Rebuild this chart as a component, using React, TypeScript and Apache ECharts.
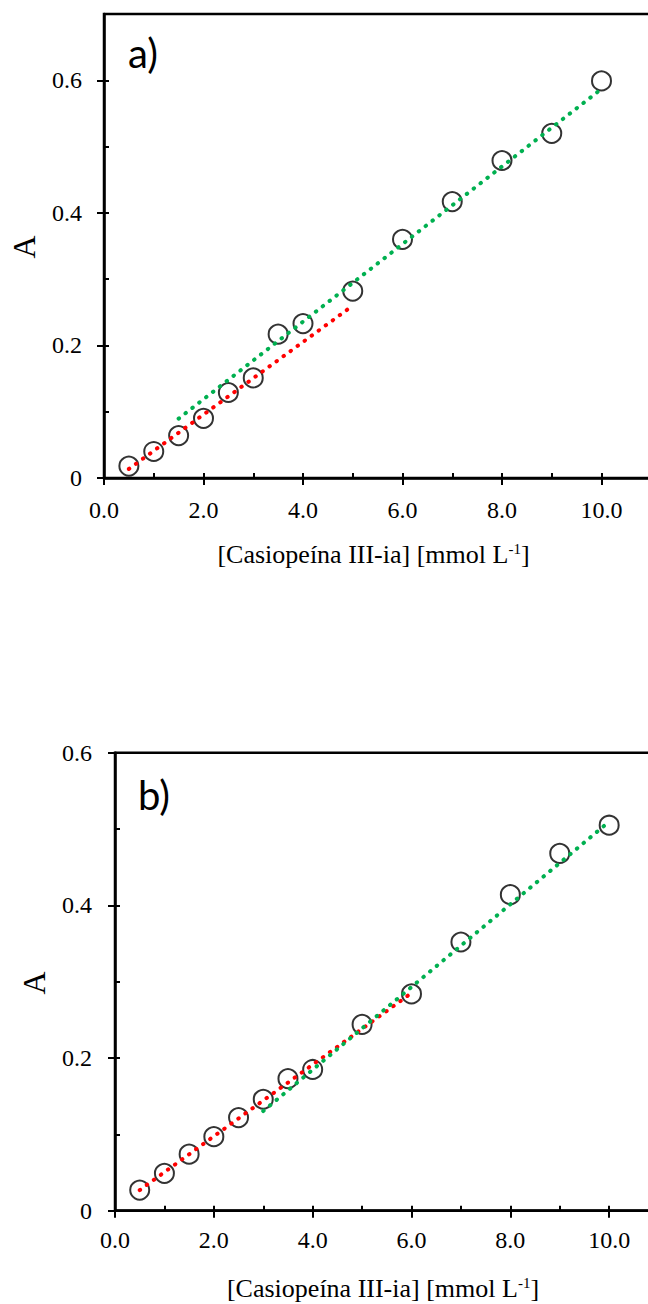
import React, { useEffect, useRef } from "react";
import * as echarts from "echarts";

// ---------- data ----------
const concentrations = [0.5, 1, 1.5, 2, 2.5, 3, 3.5, 4, 5, 6, 7, 8, 9, 10];
const absorbanceA = [0.018, 0.040, 0.064, 0.090, 0.129, 0.151, 0.217, 0.233, 0.282, 0.360, 0.417, 0.479, 0.520, 0.599];
const absorbanceB = [0.027, 0.049, 0.074, 0.097, 0.122, 0.146, 0.173, 0.185, 0.244, 0.284, 0.352, 0.414, 0.468, 0.505];

const fitRedA = [[0.5, 0.0136], [5, 0.26]];
const fitGreenA = [[1.5, 0.0896], [10, 0.587]];
const fitRedB = [[0.5, 0.027], [6, 0.2852]];
const fitGreenB = [[3, 0.1306], [10, 0.5097]];

const xMajorTicks = [0, 2, 4, 6, 8, 10];
const xMinorTicks = [0, 1, 2, 3, 4, 5, 6, 7, 8, 9, 10];
const yMajorTicksA = [0, 0.2, 0.4, 0.6];
const yMinorTicksA = [0, 0.1, 0.2, 0.3, 0.4, 0.5, 0.6];
const yMajorTicksB = [0, 0.2, 0.4, 0.6];
const yMinorTicksB = [0, 0.1, 0.2, 0.3, 0.4, 0.5, 0.6];

const xTitle = "[Casiopeína III-ia] [mmol L";
const yTitle = "A";
const panelLabels = ["a)", "b)"];

// ---------- styles ----------
const SERIF = "Liberation Serif";
const SANS = "Lato";
const BLACK = "#000";
const RED = "#ff0000";
const GREEN = "#00b050";

const mainX = (gridIndex: number, margin: number) => ({
  type: "value",
  gridIndex,
  min: 0,
  max: 12,
  axisLine: { show: true, onZero: false, lineStyle: { color: BLACK, width: 2.5 } },
  axisTick: { show: true, inside: false, length: 7, customValues: xMajorTicks, lineStyle: { color: BLACK, width: 2 } },
  axisLabel: {
    customValues: xMajorTicks,
    formatter: (v: number) => v.toFixed(1),
    margin,
    fontFamily: SERIF,
    fontSize: 24,
    color: BLACK,
  },
  splitLine: { show: false },
});

const overlayX = (gridIndex: number) => ({
  type: "value",
  gridIndex,
  min: 0,
  max: 12,
  axisLine: { show: false },
  axisTick: { show: true, inside: true, length: 5, customValues: xMinorTicks, lineStyle: { color: BLACK, width: 2 } },
  axisLabel: { show: false },
  splitLine: { show: false },
});

const mainY = (gridIndex: number, max: number, majors: number[], margin: number) => ({
  type: "value",
  gridIndex,
  min: 0,
  max,
  axisLine: { show: true, onZero: false, lineStyle: { color: BLACK, width: 2.5 } },
  axisTick: { show: true, inside: false, length: 7, customValues: majors, lineStyle: { color: BLACK, width: 2 } },
  axisLabel: {
    customValues: majors,
    formatter: (v: number) => (v === 0 ? "0" : v.toFixed(1)),
    margin,
    fontFamily: SERIF,
    fontSize: 24,
    color: BLACK,
  },
  splitLine: { show: false },
});

const overlayY = (gridIndex: number, max: number, minors: number[]) => ({
  type: "value",
  gridIndex,
  min: 0,
  max,
  axisLine: { show: false },
  axisTick: { show: true, inside: true, length: 5, customValues: minors, lineStyle: { color: BLACK, width: 2 } },
  axisLabel: { show: false },
  splitLine: { show: false },
});

const scatter = (idx: number, ys: number[]) => ({
  type: "scatter",
  xAxisIndex: idx,
  yAxisIndex: idx,
  data: concentrations.map((x, i) => [x, ys[i]]),
  symbol: "circle",
  symbolSize: 19,
  itemStyle: { color: "rgba(0,0,0,0)", borderColor: BLACK, borderWidth: 2 },
  z: 3,
});

const fitLine = (idx: number, pts: number[][], color: string) => ({
  type: "line",
  xAxisIndex: idx,
  yAxisIndex: idx,
  data: pts,
  symbol: "none",
  showSymbol: false,
  lineStyle: { color, width: 4, type: [0.5, 8.2], cap: "round" },
  z: 4,
});

const gridA = { left: 104, top: 14, width: 597, height: 464, outerBoundsMode: "none", containLabel: false };
const gridB = { left: 115, top: 752.7, width: 593, height: 458, outerBoundsMode: "none", containLabel: false };

const titleText = (x: number, y: number) => ({
  type: "text",
  x,
  y,
  style: {
    text: `{a|${xTitle}}{s|-1}{a|]}`,
    align: "center",
    verticalAlign: "middle",
    rich: {
      a: { fontFamily: SERIF, fontSize: 26, fill: BLACK, lineHeight: 26, verticalAlign: "bottom" },
      s: { fontFamily: SERIF, fontSize: 15, fill: BLACK, lineHeight: 26, verticalAlign: "top" },
    },
  },
});

const yName = (x: number, y: number) => ({
  type: "text",
  x,
  y,
  rotation: Math.PI / 2,
  style: { text: yTitle, fontFamily: SERIF, fontSize: 32, fill: BLACK, align: "center", verticalAlign: "middle" },
});

const panel = (x: number, y: number, t: string) => ({
  type: "text",
  x,
  y,
  style: { text: t, fontFamily: SANS, fontSize: 40, fill: BLACK, align: "left", verticalAlign: "middle" },
});

export default function App() {
  const ref = useRef<HTMLDivElement>(null);
  useEffect(() => {
    if (!ref.current) return;
    const chart = echarts.init(ref.current, undefined, { renderer: "svg" });
    chart.setOption({
      animation: false,
      backgroundColor: "#fff",
      grid: [
        { ...gridA, show: true, borderColor: BLACK, borderWidth: 2.5, backgroundColor: "transparent" },
        { ...gridA },
        { ...gridB, show: true, borderColor: BLACK, borderWidth: 2.5, backgroundColor: "transparent" },
        { ...gridB },
      ],
      xAxis: [mainX(0, 20), overlayX(1), mainX(2, 17), overlayX(3)],
      yAxis: [
        mainY(0, 0.7, yMajorTicksA, 22),
        overlayY(1, 0.7, yMinorTicksA),
        mainY(2, 0.6, yMajorTicksB, 23),
        overlayY(3, 0.6, yMinorTicksB),
      ],
      series: [
        scatter(0, absorbanceA),
        fitLine(0, fitRedA, RED),
        fitLine(0, fitGreenA, GREEN),
        scatter(2, absorbanceB),
        fitLine(2, fitRedB, RED),
        fitLine(2, fitGreenB, GREEN),
      ],
      graphic: [
        titleText(373.5, 554.5),
        titleText(383, 1288),
        yName(24, 247),
        yName(34, 983),
        panel(128, 53, panelLabels[0]),
        panel(138, 795, panelLabels[1]),
      ],
    });
    return () => chart.dispose();
  }, []);
  return <div ref={ref} style={{ position: "absolute", left: 0, top: 0, width: 648, height: 1304 }} />;
}
